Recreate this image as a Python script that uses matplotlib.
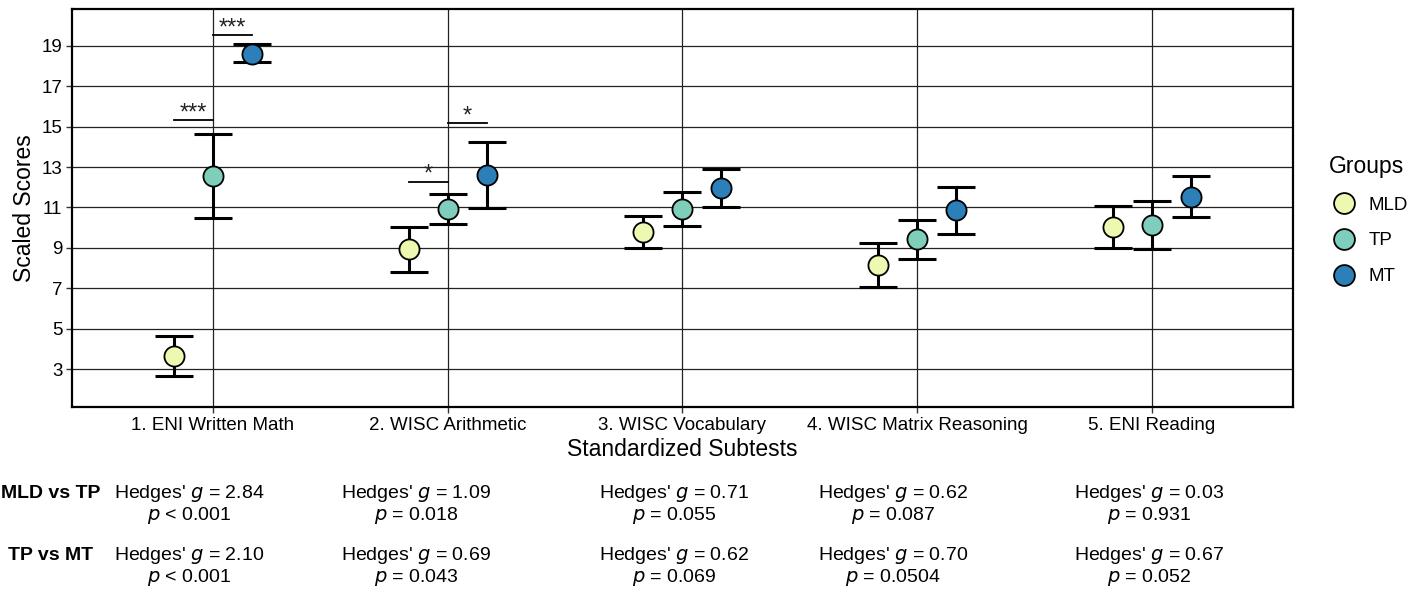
import matplotlib
matplotlib.use("Agg")
import matplotlib.pyplot as plt
from matplotlib.lines import Line2D
import numpy as np

plt.rcParams['font.family'] = ['Liberation Sans', 'DejaVu Sans']

# ---- data ----
subtests = ["1. ENI Written Math", "2. WISC Arithmetic", "3. WISC Vocabulary",
            "4. WISC Matrix Reasoning", "5. ENI Reading"]
groups = ["MLD", "TP", "MT"]
colors = ["#edf8b1", "#7fcdbb", "#2c7fb8"]

mld_mean = [3.66, 8.93, 9.79, 8.17, 10.04]
mld_low = [2.69, 7.79, 8.98, 7.06, 9.01]
mld_high = [4.64, 10.05, 10.60, 9.26, 11.08]

tp_mean = [12.55, 10.91, 10.91, 9.44, 10.12]
tp_low = [10.47, 10.18, 10.08, 8.45, 8.93]
tp_high = [14.63, 11.65, 11.75, 10.40, 11.31]

mt_mean = [18.60, 12.60, 11.98, 10.88, 11.54]
mt_low = [18.17, 10.98, 11.04, 9.70, 10.53]
mt_high = [19.06, 14.25, 12.91, 12.00, 12.56]

yticks = [3, 5, 7, 9, 11, 13, 15, 17, 19]

# significance annotations: (subtest index, group a, group b, bar height, label)
sig_subtest = [0, 0, 1, 1]
sig_group_a = [0, 1, 0, 1]
sig_group_b = [1, 2, 1, 2]
sig_height = [15.32, 19.54, 12.28, 15.17]
sig_label = ["***", "***", "*", "*"]

row_labels = ["MLD vs TP", "TP vs MT"]
g_mld_tp = ["2.84", "1.09", "0.71", "0.62", "0.03"]
p_mld_tp = ["< 0.001", "= 0.018", "= 0.055", "= 0.087", "= 0.931"]
g_tp_mt = ["2.10", "0.69", "0.62", "0.70", "0.67"]
p_tp_mt = ["< 0.001", "= 0.043", "= 0.069", "= 0.0504", "= 0.052"]

# ---- figure ----
fig = plt.figure(figsize=(14.24, 5.94), dpi=100)
ax = fig.add_axes([0.0506, 0.3143, 0.8572, 0.6711])

x = np.arange(len(subtests))
offsets = [-0.166, 0.0, 0.166]
means = [mld_mean, tp_mean, mt_mean]
lows = [mld_low, tp_low, mt_low]
highs = [mld_high, tp_high, mt_high]

for gi in range(3):
    m = np.array(means[gi]); lo = np.array(lows[gi]); hi = np.array(highs[gi])
    ax.errorbar(x + offsets[gi], m, yerr=[m - lo, hi - m], fmt='none',
                ecolor='black', elinewidth=2.2, capsize=14, capthick=2.2, zorder=3)
    ax.plot(x + offsets[gi], m, linestyle='none', marker='o', markersize=14.5,
            markerfacecolor=colors[gi], markeredgecolor='black',
            markeredgewidth=1.3, zorder=4)

for s, a, b, h, lab in zip(sig_subtest, sig_group_a, sig_group_b, sig_height, sig_label):
    xa = x[s] + offsets[a]; xb = x[s] + offsets[b]
    ax.plot([xa, xb], [h, h], color='black', lw=1.3, zorder=3)
    ax.text((xa + xb) / 2, h + 0.03, lab, ha='center', va='baseline',
            fontsize=17, color='#222222')

ax.set_xlim(-0.6, 4.6)
ax.set_ylim(1.12, 20.83)
ax.set_xticks(x)
ax.set_xticklabels(subtests, fontsize=13.5)
ax.set_yticks(yticks)
ax.set_yticklabels([str(t) for t in yticks], fontsize=13.5)
ax.grid(True, color='#222222', lw=0.9, zorder=0)
ax.set_axisbelow(True)
for sp in ax.spines.values():
    sp.set_linewidth(1.6)
ax.tick_params(axis='both', length=4, width=1, color='#333333', pad=3)
ax.set_ylabel("Scaled Scores", fontsize=16.5, labelpad=4)
ax.set_xlabel("Standardized Subtests", fontsize=16.5, labelpad=3)

handles = [Line2D([0], [0], linestyle='none', marker='o', markersize=15,
                  markerfacecolor=c, markeredgecolor='black', markeredgewidth=1.3)
           for c in colors]
leg = ax.legend(handles, groups, title="Groups", loc='center left',
                bbox_to_anchor=(1.013, 0.47), frameon=False, fontsize=13.5,
                title_fontsize=16.5, handletextpad=0.3, labelspacing=1.0)

# ---- bottom effect-size table ----
W, H = 1424.0, 594.0
col_px = [189, 416, 674, 893, 1149]
row_y = [(493, 516), (555, 578)]
for r, (gs, ps) in enumerate([(g_mld_tp, p_mld_tp), (g_tp_mt, p_tp_mt)]):
    y1, y2 = row_y[r]
    fig.text(51 / W, 1 - y1 / H, row_labels[r], ha='center', va='center',
             fontsize=14, fontweight='bold')
    for c in range(len(subtests)):
        fig.text(col_px[c] / W, 1 - y1 / H, "Hedges' $g$ = " + gs[c],
                 ha='center', va='center', fontsize=14)
        fig.text(col_px[c] / W, 1 - y2 / H, "$p$ " + ps[c],
                 ha='center', va='center', fontsize=14)

fig.savefig("out.png", dpi=100)
